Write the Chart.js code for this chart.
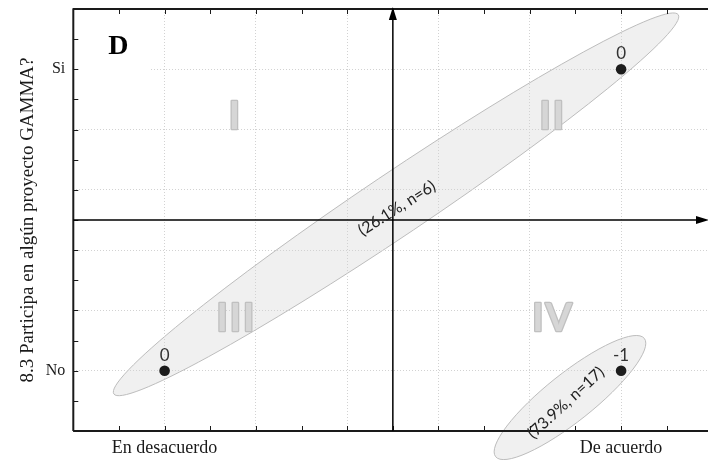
<!DOCTYPE html>
<html>
<head>
<meta charset="utf-8">
<script src="https://cdn.jsdelivr.net/npm/chart.js@4/dist/chart.umd.min.js"></script>
<style>
  html, body { margin: 0; padding: 0; overflow: hidden; background: #fff; width: 708px; height: 460px; }
  canvas { display: block; }
</style>
</head>
<body>
<canvas id="c" width="720" height="460" style="width:720px;height:460px"></canvas>
<script>
// Categories of each axis (position on the scale = index in the list)
const xCategories = ['En desacuerdo', 'De acuerdo'];
const yCategories = ['No', 'Si'];

// Observed category combinations and the class assigned to each
const pointX = ['En desacuerdo', 'De acuerdo', 'De acuerdo'];
const pointY = ['No', 'Si', 'No'];
const pointClass = ['0', '0', '-1'];

// Cluster summaries written along each ellipse
const clusterShares = ['(26.1%, n=6)', '(73.9%, n=17)'];

// Quadrant names
const quadrantNames = ['I', 'II', 'III', 'IV'];

const yAxisTitle = '8.3 Participa en algún proyecto GAMMA?';
const panelLetter = 'D';

const SERIF = '"Liberation Serif", "Times New Roman", serif';
const SANS = 'Lato, "Open Sans", sans-serif';

// Ellipse layout: centre in axis units, semi-axes in px, tilt in degrees
const ellipseLayout = [
  { cx: 0.507, cy: 0.552, a: 340, b: 31, tilt: 33.9, tx: 0.509, ty: 0.539, textTilt: 32.5 },
  { cx: 0.888, cy: -0.089, a: 95, b: 24, tilt: 38.5, tx: 0.879, ty: -0.106, textTilt: 42.5 }
];
const quadrantLayout = [[0.153, 0.842], [0.848, 0.844], [0.155, 0.172], [0.849, 0.172]];

const isMajor = v => Math.abs(v * 5 - Math.round(v * 5)) < 1e-6;
const catLabel = (list, v) => {
  const i = Math.round(v);
  return (Math.abs(v - i) < 1e-6 && list[i] !== undefined) ? list[i] : '';
};

const points = pointX.map((xc, i) => ({
  x: xCategories.indexOf(xc),
  y: yCategories.indexOf(pointY[i])
}));

const decorations = {
  id: 'decorations',
  beforeDraw(chart) {
    const { ctx, scales: { x, y } } = chart;
    ctx.save();
    ctx.fillStyle = '#ffffff';
    ctx.fillRect(0, 0, chart.width, chart.height);
    // cluster ellipses
    ellipseLayout.forEach(e => {
      ctx.beginPath();
      ctx.ellipse(x.getPixelForValue(e.cx), y.getPixelForValue(e.cy), e.a, e.b,
        -e.tilt * Math.PI / 180, 0, Math.PI * 2);
      ctx.fillStyle = '#f0f0f0';
      ctx.fill();
      ctx.lineWidth = 1;
      ctx.strokeStyle = '#bdbdbd';
      ctx.stroke();
    });
    ctx.restore();
  },
  afterDatasetsDraw(chart) {
    const { ctx, chartArea: ca, scales: { x, y } } = chart;
    ctx.save();

    // white patch behind the panel letter
    ctx.fillStyle = '#ffffff';
    ctx.fillRect(ca.left + 1, ca.top + 2, 76, 70);
    ctx.fillStyle = '#000';
    ctx.font = 'bold 28px ' + SERIF;
    ctx.textAlign = 'left';
    ctx.textBaseline = 'alphabetic';
    ctx.fillText(panelLetter, ca.left + 35, ca.top + 45);

    // quadrant names
    ctx.font = 'bold 38px ' + SANS;
    ctx.letterSpacing = '2px';
    ctx.textAlign = 'center';
    ctx.textBaseline = 'middle';
    ctx.lineJoin = 'round';
    quadrantNames.forEach((q, i) => {
      const px = x.getPixelForValue(quadrantLayout[i][0]) + 1;
      const py = y.getPixelForValue(quadrantLayout[i][1]);
      ctx.lineWidth = 2.6;
      ctx.strokeStyle = '#c0c0c0';
      ctx.strokeText(q, px, py);
      ctx.fillStyle = '#d6d6d6';
      ctx.fillText(q, px, py);
    });
    ctx.letterSpacing = '0px';

    // frame
    ctx.strokeStyle = '#1a1a1a';
    ctx.lineWidth = 2;
    ctx.beginPath();
    ctx.moveTo(ca.left, ca.bottom); ctx.lineTo(ca.left, ca.top);
    ctx.lineTo(ca.right, ca.top); ctx.lineTo(ca.right, ca.bottom);
    ctx.lineTo(ca.left, ca.bottom);
    ctx.stroke();

    // inward tick marks
    ctx.lineWidth = 1;
    x.ticks.forEach(t => {
      const px = Math.round(x.getPixelForValue(t.value)) + 0.5;
      ctx.beginPath();
      ctx.moveTo(px, ca.top); ctx.lineTo(px, ca.top + 5);
      ctx.moveTo(px, ca.bottom); ctx.lineTo(px, ca.bottom - 5);
      ctx.stroke();
    });
    y.ticks.forEach(t => {
      const py = Math.round(y.getPixelForValue(t.value)) + 0.5;
      ctx.beginPath();
      ctx.moveTo(ca.left, py); ctx.lineTo(ca.left + 5, py);
      ctx.stroke();
    });

    // centre axes with arrows
    const cx = x.getPixelForValue(0.5);
    const cy = y.getPixelForValue(0.5);
    ctx.strokeStyle = '#000';
    ctx.fillStyle = '#000';
    ctx.lineWidth = 1.5;
    ctx.beginPath();
    ctx.moveTo(cx, ca.bottom); ctx.lineTo(cx, ca.top + 8);
    ctx.moveTo(ca.left, cy); ctx.lineTo(705, cy);
    ctx.stroke();
    ctx.beginPath();
    ctx.moveTo(cx, ca.top - 2); ctx.lineTo(cx - 4, ca.top + 11); ctx.lineTo(cx + 4, ca.top + 11);
    ctx.closePath(); ctx.fill();
    ctx.beginPath();
    ctx.moveTo(709, cy); ctx.lineTo(696, cy - 4); ctx.lineTo(696, cy + 4);
    ctx.closePath(); ctx.fill();

    // cluster summaries
    ctx.font = '16px ' + SANS;
    ctx.fillStyle = '#222';
    ctx.textAlign = 'center';
    ctx.textBaseline = 'middle';
    ellipseLayout.forEach((e, i) => {
      ctx.save();
      ctx.translate(x.getPixelForValue(e.tx), y.getPixelForValue(e.ty));
      ctx.rotate(-e.textTilt * Math.PI / 180);
      ctx.fillText(clusterShares[i], 0, 0);
      ctx.restore();
    });

    // class labels above the points
    const meta = chart.getDatasetMeta(0);
    ctx.font = '17px ' + SANS;
    ctx.textBaseline = 'alphabetic';
    ctx.fillStyle = '#333';
    meta.data.forEach((el, i) => {
      ctx.fillText(pointClass[i], el.x, el.y - 10);
    });
    ctx.restore();
  }
};

new Chart(document.getElementById('c'), {
  type: 'scatter',
  data: {
    datasets: [{
      data: points,
      pointRadius: 5.3,
      pointHoverRadius: 5.3,
      backgroundColor: '#1c1c1c',
      borderWidth: 0
    }]
  },
  options: {
    responsive: false,
    animation: false,
    events: [],
    layout: { padding: { left: 0, top: 9, right: 7.6, bottom: 0 } },
    plugins: { legend: { display: false }, tooltip: { enabled: false } },
    scales: {
      x: {
        type: 'linear',
        min: -0.2,
        max: 1.2,
        afterFit: s => { s.height = 29; s.paddingLeft = 0; s.paddingRight = 0; },
        ticks: {
          stepSize: 0.1,
          autoSkip: false,
          maxRotation: 0,
          padding: 6,
          color: '#1a1a1a',
          font: { family: SERIF, size: 18 },
          callback: v => catLabel(xCategories, v)
        },
        grid: {
          drawTicks: false,
          lineWidth: 1,
          color: c => isMajor(c.tick.value) ? '#d2d2d2' : 'rgba(0,0,0,0)'
        },
        border: { display: false, dash: [1, 2] }
      },
      y: {
        type: 'linear',
        min: -0.2,
        max: 1.2,
        afterFit: s => { s.width = 73.3; s.paddingTop = 0; s.paddingBottom = 0; },
        title: {
          display: true,
          text: yAxisTitle,
          color: '#1a1a1a',
          font: { family: SERIF, size: 19 },
          padding: { top: 17, bottom: 0 }
        },
        ticks: {
          stepSize: 0.1,
          autoSkip: false,
          padding: 8,
          color: '#1a1a1a',
          font: { family: SERIF, size: 16 },
          callback: v => catLabel(yCategories, v)
        },
        grid: {
          drawTicks: false,
          lineWidth: 1,
          color: c => isMajor(c.tick.value) ? '#d2d2d2' : 'rgba(0,0,0,0)'
        },
        border: { display: false, dash: [1, 2] }
      }
    }
  },
  plugins: [decorations]
});
</script>
</body>
</html>
